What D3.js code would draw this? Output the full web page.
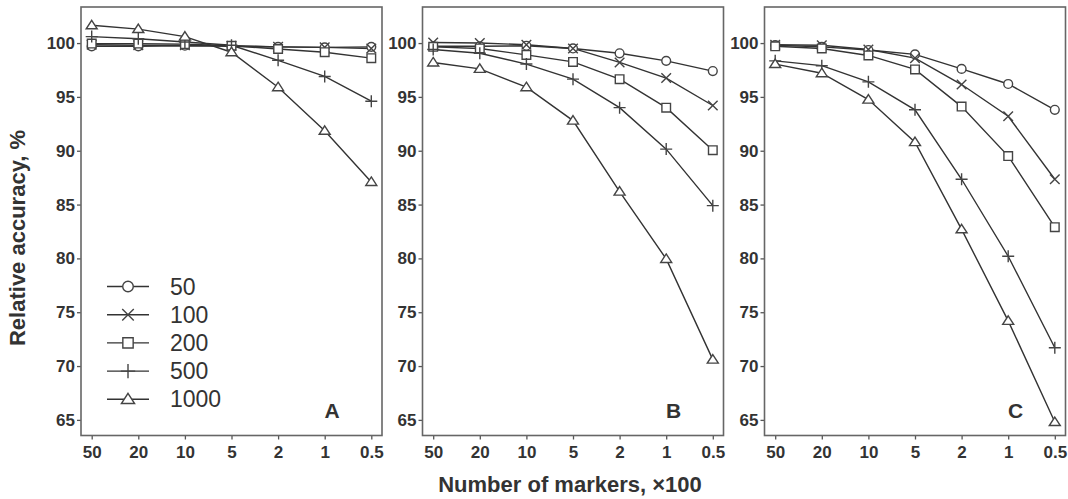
<!DOCTYPE html>
<html>
<head>
<meta charset="utf-8" />
<title>Relative accuracy</title>
<script src="https://cdn.jsdelivr.net/npm/d3@7"></script>
<style>
    body { margin: 0; background: #fff; }
    svg text { font-family: "Liberation Sans", Arial, sans-serif; fill: #333; }
</style>
</head>
<body>
<div id="chart"></div>
<script>
// number of markers (x100), read from left to right
var xLabels = ["50", "20", "10", "5", "2", "1", "0.5"];
var sizes = ["50", "100", "200", "500", "1000"];
var panelNames = ["A", "B", "C"];
var yTicks = [65, 70, 75, 80, 85, 90, 95, 100];

// panel A
var a50   = [99.7, 99.7, 99.75, 99.7, 99.65, 99.6, 99.65];
var a100  = [99.85, 99.8, 99.8, 99.75, 99.65, 99.6, 99.5];
var a200  = [99.95, 99.95, 99.9, 99.75, 99.45, 99.15, 98.6];
var a500  = [100.6, 100.4, 100.1, 99.8, 98.4, 96.9, 94.6];
var a1000 = [101.65, 101.3, 100.6, 99.15, 95.9, 91.85, 87.1];

// panel B
var b50   = [99.7, 99.7, 99.75, 99.5, 99.05, 98.35, 97.4];
var b100  = [100.05, 100.0, 99.85, 99.5, 98.2, 96.75, 94.2];
var b200  = [99.65, 99.5, 98.9, 98.25, 96.65, 94.0, 90.05];
var b500  = [99.4, 99.05, 98.05, 96.65, 94.0, 90.15, 84.9];
var b1000 = [98.2, 97.6, 95.9, 92.8, 86.2, 79.95, 70.6];

// panel C
var c50   = [99.8, 99.65, 99.35, 98.95, 97.6, 96.2, 93.8];
var c100  = [99.85, 99.8, 99.4, 98.6, 96.15, 93.2, 87.35];
var c200  = [99.7, 99.5, 98.85, 97.55, 94.1, 89.5, 82.9];
var c500  = [98.35, 97.9, 96.4, 93.8, 87.35, 80.2, 71.7];
var c1000 = [98.05, 97.2, 94.75, 90.8, 82.7, 74.2, 64.8];

var panels = [
    [a50, a100, a200, a500, a1000],
    [b50, b100, b200, b500, b1000],
    [c50, c100, c200, c500, c1000]
];

var w = 1068, h = 499;
var plotTop = 7, plotBottom = 435.5;
var panelW = 301;
var lefts = [81, 422.5, 764.5];
var pad = 10.7;

var svg = d3.select("#chart").append("svg")
    .attr("width", w)
    .attr("height", h);

var y = d3.scaleLinear().domain([63.55, 103.35]).range([plotBottom, plotTop]);

// marker paths, r = half size
function marker(kind, r) {
    if (kind == 0) return d3.symbol().type(d3.symbolCircle).size(Math.PI * r * r)();
    if (kind == 1) return "M" + (-r) + "," + (-r) + "L" + r + "," + r + "M" + (-r) + "," + r + "L" + r + "," + (-r);
    if (kind == 2) return "M" + (-r) + "," + (-r) + "H" + r + "V" + r + "H" + (-r) + "Z";
    if (kind == 3) { var p = r * 1.25; return "M" + (-p) + ",0H" + p + "M0," + (-p) + "V" + p; }
    return "M0," + (-r) + "L" + (r * 1.1) + "," + (r * 0.7) + "L" + (-r * 1.1) + "," + (r * 0.7) + "Z";
}
var markerR = [4.4, 4.8, 4.3, 4.8, 5];

panels.forEach(function (series, p) {
    var x0 = lefts[p];
    var x = d3.scalePoint().domain(xLabels).range([x0 + pad, x0 + panelW - pad]);
    var g = svg.append("g");

    // y axis
    var yAxis = g.append("g")
        .attr("transform", "translate(" + x0 + ",0)")
        .call(d3.axisLeft(y).tickValues(yTicks).tickSize(4).tickPadding(2));
    // x axis
    var xAxis = g.append("g")
        .attr("transform", "translate(0," + plotBottom + ")")
        .call(d3.axisBottom(x).tickSize(4).tickPadding(6));
    [yAxis, xAxis].forEach(function (a) {
        a.select(".domain").remove();
        a.selectAll("line").attr("stroke", "#555").attr("stroke-width", 1.3);
        a.selectAll("text")
            .attr("font-size", "17px")
            .attr("font-weight", "bold")
            .attr("fill", "#333");
    });

    // frame
    g.append("rect")
        .attr("x", x0)
        .attr("y", plotTop)
        .attr("width", panelW)
        .attr("height", plotBottom - plotTop)
        .attr("fill", "none")
        .attr("stroke", "#666")
        .attr("stroke-width", 1.6);

    var line = d3.line()
        .x(function (d, i) { return x(xLabels[i]); })
        .y(function (d) { return y(d); });

    series.forEach(function (vals, s) {
        g.append("path")
            .attr("d", line(vals))
            .attr("fill", "none")
            .attr("stroke", "#333")
            .attr("stroke-width", 1.4);
    });
    series.forEach(function (vals, s) {
        g.selectAll("path.m" + s)
            .data(vals)
            .enter()
            .append("path")
            .attr("class", "m" + s)
            .attr("transform", function (d, i) {
                return "translate(" + x(xLabels[i]) + "," + y(d) + ")";
            })
            .attr("d", marker(s, markerR[s]))
            .attr("fill", "#fff")
            .attr("stroke", "#444")
            .attr("stroke-width", 1.4);
    });

    g.append("text")
        .attr("x", x0 + panelW - 50)
        .attr("y", 418)
        .attr("text-anchor", "middle")
        .attr("font-size", "21px")
        .attr("font-weight", "bold")
        .text(panelNames[p]);
});

// legend in panel A
var legend = svg.append("g");
sizes.forEach(function (s, i) {
    var ly = 286.5 + i * 28.2;
    legend.append("line")
        .attr("x1", 107).attr("x2", 149)
        .attr("y1", ly).attr("y2", ly)
        .attr("stroke", "#333")
        .attr("stroke-width", 1.4);
    legend.append("path")
        .attr("transform", "translate(128," + ly + ")")
        .attr("d", marker(i, markerR[i] * 1.2))
        .attr("fill", "#fff")
        .attr("stroke", "#444")
        .attr("stroke-width", 1.4);
    legend.append("text")
        .attr("x", 170)
        .attr("y", ly + 8)
        .attr("font-size", "23px")
        .text(s);
});

// axis titles
svg.append("text")
    .attr("transform", "translate(25,238) rotate(-90)")
    .attr("text-anchor", "middle")
    .attr("font-size", "22px")
    .attr("font-weight", "bold")
    .text("Relative accuracy, %");

svg.append("text")
    .attr("x", 570)
    .attr("y", 492)
    .attr("text-anchor", "middle")
    .attr("font-size", "22px")
    .attr("font-weight", "bold")
    .text("Number of markers, \u00d7100");
</script>
</body>
</html>
